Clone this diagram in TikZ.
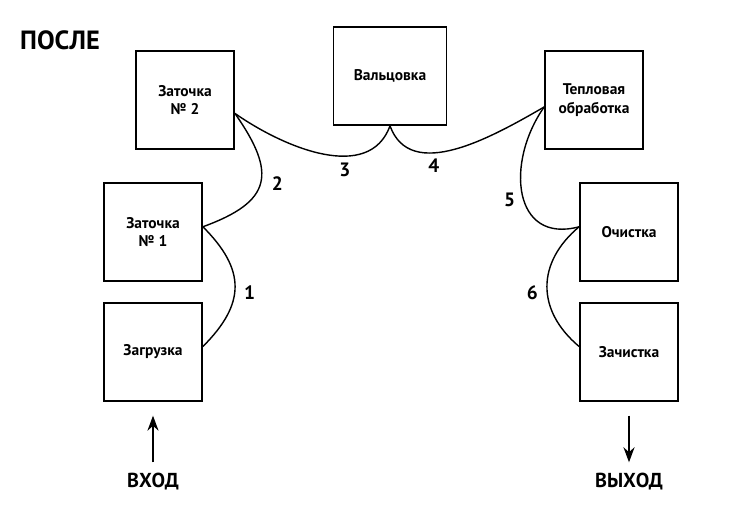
\documentclass[tikz,border=0pt]{standalone}
\usepackage{fontspec}
\setmainfont{PT Sans}
\usetikzlibrary{positioning,arrows.meta}

\begin{document}
\begin{tikzpicture}[
        stage/.style = {rectangle, draw, line width=1pt, minimum size=1.96cm,
                        inner sep=1pt, align=center, font=\fontsize{8.8}{10.5}\selectfont\bfseries},
        link/.style  = {line width=0.8pt},
        num/.style   = {font=\fontsize{11}{13}\selectfont\bfseries, inner sep=3pt},
        io/.style    = {font=\fontsize{11.5}{13}\selectfont\bfseries},
        flow/.style  = {-{Stealth[length=3mm,width=2.2mm]}, line width=1.2pt},
        node distance = 0.4cm
    ]
        \useasboundingbox (0,0) rectangle (15.02,-10.28);
        \node[anchor=west, font=\fontsize{15}{17}\selectfont\bfseries] (title) at (0.28,-0.80) {ПОСЛЕ};
        \node[stage]                       (z2)   at (3.70,-2.00)  {Заточка\\№ 2};
        \node[stage, minimum width=2.26cm] (val)  at (7.80,-1.52)  {Вальцовка};
        \node[stage]                       (tp)   at (11.88,-2.00) {Тепловая\\обработка};
        \node[stage]                       (z1)   at (3.06,-4.64)  {Заточка\\№ 1};
        \node[stage, below=of z1]          (zg)                    {Загрузка};
        \node[stage]                       (och)  at (12.58,-4.64) {Очистка};
        \node[stage, below=of och]         (zach)                  {Зачистка};
        \node[io]                          (vhod)  at (3.06,-9.64)  {ВХОД};
        \node[io]                          (vyhod) at (12.58,-9.64) {ВЫХОД};
        \draw[link] (zg.6)    to[out=45,   in=-45, looseness=1.3]  node[num, pos=0.45, right=2pt] {1} (z1.6);
        \draw[link] (z1.6)    to[out=20,   in=-55, looseness=1.6]  node[num, pos=0.5, right=3pt] {2} (z2.-15);
        \draw[link] (z2.-15)  to[out=-35,  in=-110] node[num, pos=0.55, below right=1pt] {3} (val.south);
        \draw[link] (val.south) to[out=-70, in=-150] node[num, pos=0.45, below left=1pt] {4} (tp.188);
        \draw[link] (tp.188)  to[out=-125, in=-165, looseness=1.4] node[num, pos=0.45, below left] {5} (och.174);
        \draw[link] (och.174) to[out=-140, in=140, looseness=1.2]  node[num, pos=0.55, left=2pt] {6} (zach.174);
        \draw[flow, shorten <=0.1cm, shorten >=0.28cm] (vhod) -- (zg);
        \draw[flow, shorten <=0.28cm, shorten >=0.1cm] (zach) -- (vyhod);
    \end{tikzpicture}
\end{document}
